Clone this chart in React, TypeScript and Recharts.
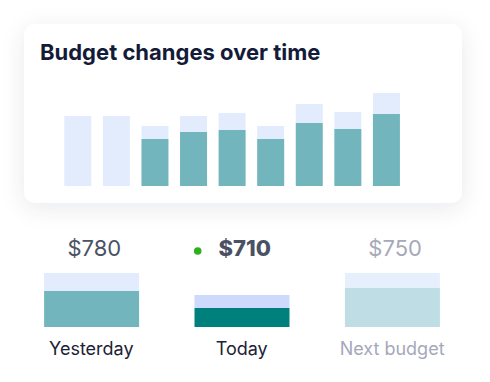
import { BarChart, Bar, XAxis, YAxis, Cell } from 'recharts';

// history chart (card)
const periods = ['1', '2', '3', '4', '5', '6', '7', '8', '9'];
const budget = [70, 70, 60, 70, 73, 60, 82, 74, 93];
const spent = [0, 0, 47, 54, 56, 47, 63, 57, 72];

// summary row
const summaryNames = ['Yesterday', 'Today', 'Next budget'];
const summaryAmounts = ['$780', '$710', '$750'];
const summaryBudget = [54, 32, 54];
const summarySpent = [36, 19, 39];

const FONT = 'Inter, Lato, sans-serif';

const historyData = periods.map((p, i) => ({
  name: p,
  spent: spent[i],
  rest: budget[i] - spent[i],
}));

const summaryData = summaryNames.map((n, i) => ({
  name: n,
  amount: summaryAmounts[i],
  spent: summarySpent[i],
  rest: summaryBudget[i] - summarySpent[i],
}));

const spentColors = ['#72B5BD', '#00807D', '#BEDDE4'];
const restColors = ['#E3ECFD', '#CDDAFC', '#E6F0FD'];
const amountColors = ['#4B5264', '#4B5164', '#A6A9B8'];
const nameColors = ['#1C2236', '#1C2236', '#A5A8BB'];

function AmountTick({ x, y, payload, index }: any) {
  const today = index === 1;
  return (
    <g>
      {today && <circle cx={x - 44} cy={y - 16} r={3.8} fill="#2DB01E" />}
      <text
        x={x + 3}
        y={y}
        dy={-11}
        textAnchor="middle"
        fontFamily={FONT}
        fontSize={22}
        fontWeight={today ? 800 : 400}
        fill={amountColors[index]}
      >
        {payload.value}
      </text>
    </g>
  );
}

function NameTick({ x, y, payload, index }: any) {
  return (
    <text
      x={x}
      y={y}
      dy={27.5}
      textAnchor="middle"
      fontFamily={FONT}
      fontSize={18}
      fill={nameColors[index]}
    >
      {payload.value}
    </text>
  );
}

export default function App() {
  return (
    <div style={{ position: 'fixed', left: 0, top: 0, width: 490, height: 382, background: '#fff', overflow: 'hidden' }}>
      <div
        style={{
          position: 'absolute', left: 24, top: 24, width: 438, height: 179,
          background: '#fff', borderRadius: 10,
          boxShadow: '0 5px 24px rgba(30,40,70,0.10)',
        }}
      />
      <div
        style={{
          position: 'absolute', left: 40, top: 38, fontFamily: FONT, fontSize: 22,
          fontWeight: 700, color: '#141B38', lineHeight: '28px', whiteSpace: 'nowrap',
        }}
      >
        Budget changes over time
      </div>

      <div style={{ position: 'absolute', left: 0, top: 0 }}>
        <BarChart width={490} height={200} data={historyData}
          margin={{ top: 86, right: 84.5, bottom: 14, left: 58.3 }}>
          <XAxis dataKey="name" hide />
          <YAxis hide domain={[0, 100]} />
          <Bar dataKey="spent" stackId="a" fill="#72B5BD" barSize={27} isAnimationActive={false} />
          <Bar dataKey="rest" stackId="a" fill="#E3ECFD" barSize={27} isAnimationActive={false} />
        </BarChart>
      </div>

      <div style={{ position: 'absolute', left: 0, top: 0 }}>
        <BarChart width={490} height={382} data={summaryData}
          margin={{ top: 230, right: 22.7, bottom: 0, left: 16.1 }}>
          <XAxis dataKey="name" height={55} axisLine={false} tickLine={false}
            tickSize={0} tickMargin={0} interval={0} tick={<NameTick />} />
          <XAxis xAxisId="top" orientation="top" dataKey="amount" height={37}
            axisLine={false} tickLine={false} tickSize={0} tickMargin={0}
            interval={0} tick={<AmountTick />} />
          <YAxis hide domain={[0, 60]} />
          <Bar dataKey="spent" stackId="s" barSize={95} isAnimationActive={false}>
            {summaryData.map((_, i) => <Cell key={i} fill={spentColors[i]} />)}
          </Bar>
          <Bar dataKey="rest" stackId="s" barSize={95} isAnimationActive={false}>
            {summaryData.map((_, i) => <Cell key={i} fill={restColors[i]} />)}
          </Bar>
        </BarChart>
      </div>
    </div>
  );
}
